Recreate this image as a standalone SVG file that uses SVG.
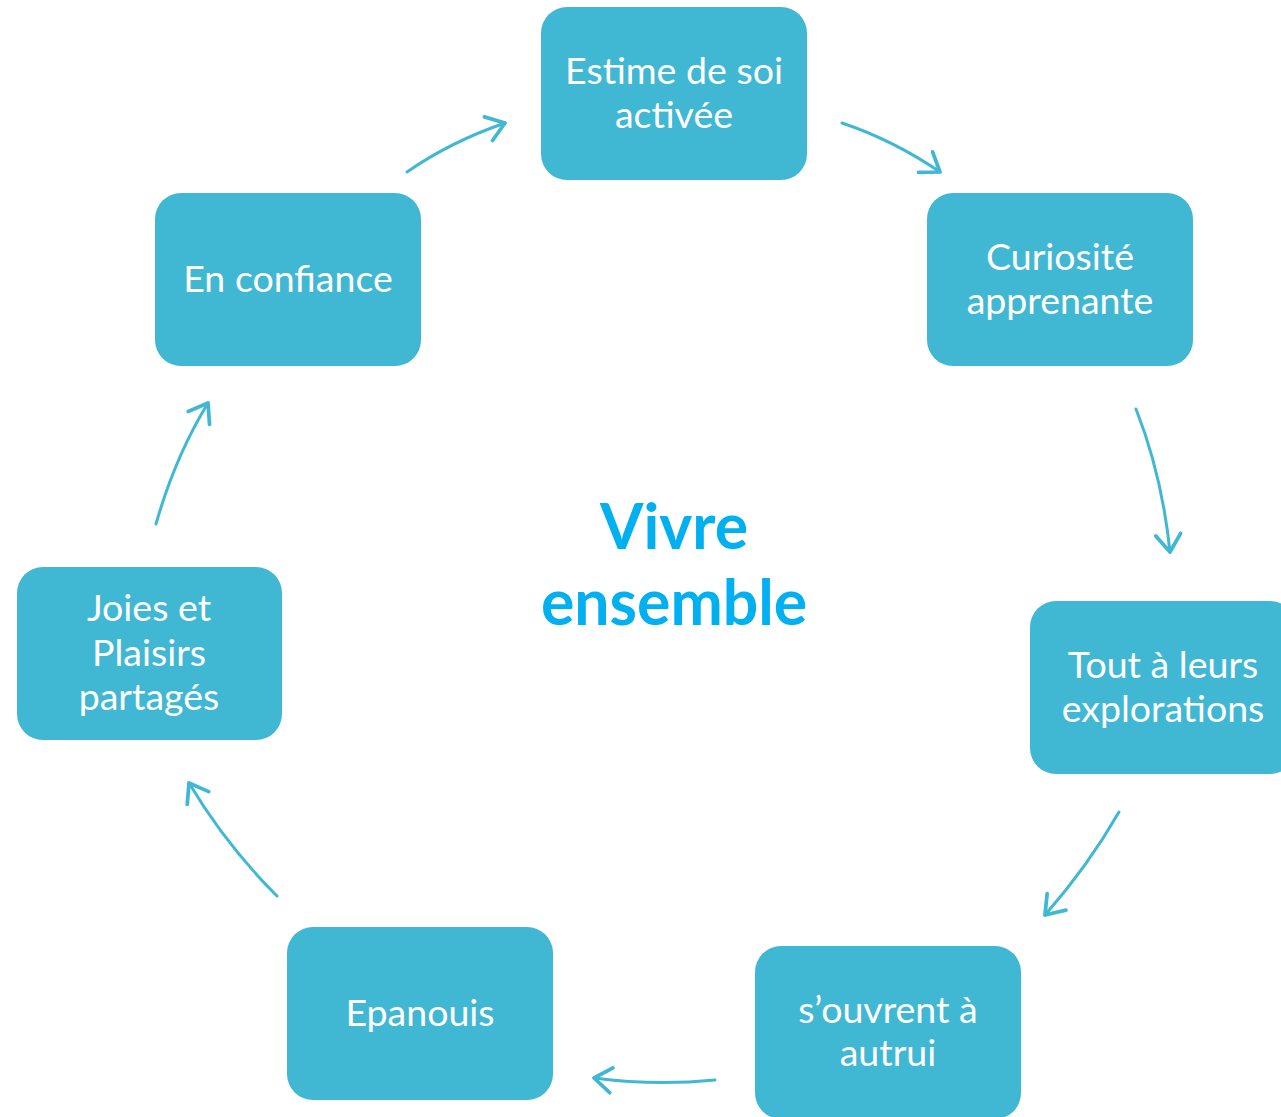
<svg xmlns="http://www.w3.org/2000/svg" width="1281" height="1117" viewBox="0 0 1281 1117">
<style>
.box{fill:#41B8D3;}
.lbl{font-family:Lato,"Open Sans",sans-serif;font-size:37.5px;fill:#ffffff;text-anchor:middle;}
.ctr{font-family:Lato,"Open Sans",sans-serif;font-weight:bold;font-size:62.5px;fill:#00B0F0;text-anchor:middle;}
.con{fill:none;stroke:#41B8D3;stroke-width:3;stroke-linecap:round;}
</style>
<defs>
<marker id="ah" markerUnits="userSpaceOnUse" markerWidth="30" markerHeight="30" refX="0" refY="0" viewBox="-16 -12 20 24" orient="auto" overflow="visible">
<path d="M-14,-10 L0,0 L-14,10" fill="none" stroke="#41B8D3" stroke-width="3" stroke-linecap="round" stroke-linejoin="round"/>
</marker>
</defs>
<rect width="1281" height="1117" fill="#ffffff"/>
<g id="connectors">
<path class="con" d="M407,172 Q450,142 505,123" marker-end="url(#ah)"/>
<path class="con" d="M842,123 Q893,140 940,172" marker-end="url(#ah)"/>
<path class="con" d="M1136,409 Q1162,475 1170,552" marker-end="url(#ah)"/>
<path class="con" d="M1119,812 Q1088,866 1045,915" marker-end="url(#ah)"/>
<path class="con" d="M715,1080 Q655,1086 594,1078" marker-end="url(#ah)"/>
<path class="con" d="M277,896 Q226,845 189,783" marker-end="url(#ah)"/>
<path class="con" d="M156,524 Q175,457 208,403" marker-end="url(#ah)"/>
</g>
<g id="n1"><rect class="box" x="541" y="7" width="266" height="173" rx="26"/><text class="lbl" x="674" y="84">Estime de soi</text><text class="lbl" x="674" y="128">activée</text></g>
<g id="n2"><rect class="box" x="927" y="193" width="266" height="173" rx="26"/><text class="lbl" x="1060" y="270">Curiosité</text><text class="lbl" x="1060" y="314">apprenante</text></g>
<g id="n3"><rect class="box" x="1030" y="601" width="266" height="173" rx="26"/><text class="lbl" x="1163" y="678">Tout à leurs</text><text class="lbl" x="1163" y="722">explorations</text></g>
<g id="n4"><rect class="box" x="755" y="946" width="266" height="173" rx="26"/><text class="lbl" x="888" y="1023">s’ouvrent à</text><text class="lbl" x="888" y="1066">autrui</text></g>
<g id="n5"><rect class="box" x="287" y="927" width="266" height="173" rx="26"/><text class="lbl" x="420" y="1026">Epanouis</text></g>
<g id="n6"><rect class="box" x="17" y="567" width="265" height="173" rx="26"/><text class="lbl" x="149" y="621">Joies et</text><text class="lbl" x="149" y="666">Plaisirs</text><text class="lbl" x="149" y="710">partagés</text></g>
<g id="n7"><rect class="box" x="155" y="193" width="266" height="173" rx="26"/><text class="lbl" x="288" y="292">En confiance</text></g>
<g id="center"><text class="ctr" x="674" y="549">Vivre</text><text class="ctr" x="674" y="625">ensemble</text></g>
</svg>
